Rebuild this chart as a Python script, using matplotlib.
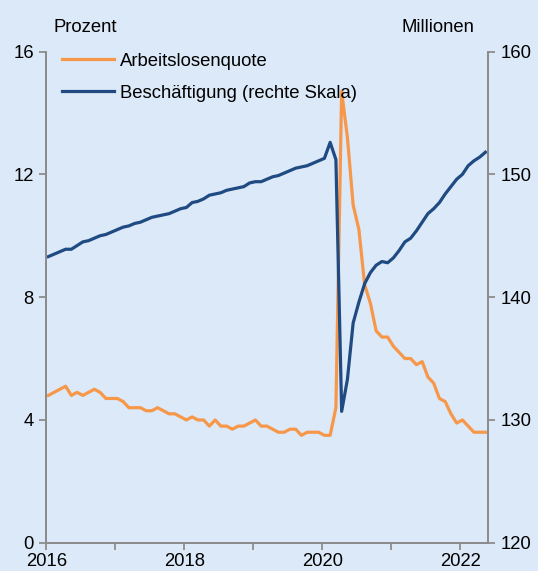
import matplotlib.pyplot as plt
import numpy as np

plt.rcParams['font.family'] = ['Liberation Sans', 'DejaVu Sans']

# monthly data, Jan 2016 - May 2022
start_year = 2016
unemployment = [
    4.8, 4.9, 5.0, 5.1, 4.8, 4.9, 4.8, 4.9, 5.0, 4.9, 4.7, 4.7,   # 2016
    4.7, 4.6, 4.4, 4.4, 4.4, 4.3, 4.3, 4.4, 4.3, 4.2, 4.2, 4.1,   # 2017
    4.0, 4.1, 4.0, 4.0, 3.8, 4.0, 3.8, 3.8, 3.7, 3.8, 3.8, 3.9,   # 2018
    4.0, 3.8, 3.8, 3.7, 3.6, 3.6, 3.7, 3.7, 3.5, 3.6, 3.6, 3.6,   # 2019
    3.5, 3.5, 4.4, 14.7, 13.2, 11.0, 10.2, 8.4, 7.8, 6.9, 6.7, 6.7,  # 2020
    6.4, 6.2, 6.0, 6.0, 5.8, 5.9, 5.4, 5.2, 4.7, 4.6, 4.2, 3.9,   # 2021
    4.0, 3.8, 3.6, 3.6, 3.6,                                      # 2022
]
employment = [
    143.3, 143.5, 143.7, 143.9, 143.9, 144.2, 144.5, 144.6, 144.8, 145.0, 145.1, 145.3,  # 2016
    145.5, 145.7, 145.8, 146.0, 146.1, 146.3, 146.5, 146.6, 146.7, 146.8, 147.0, 147.2,  # 2017
    147.3, 147.7, 147.8, 148.0, 148.3, 148.4, 148.5, 148.7, 148.8, 148.9, 149.0, 149.3,  # 2018
    149.4, 149.4, 149.6, 149.8, 149.9, 150.1, 150.3, 150.5, 150.6, 150.7, 150.9, 151.1,  # 2019
    151.3, 152.6, 151.2, 130.7, 133.3, 137.9, 139.6, 141.1, 142.0, 142.6, 142.9, 142.8,  # 2020
    143.2, 143.8, 144.5, 144.8, 145.4, 146.1, 146.8, 147.2, 147.7, 148.4, 149.0, 149.6,  # 2021
    150.0, 150.7, 151.1, 151.4, 151.8,                                                   # 2022
]
x = start_year + np.arange(len(unemployment)) / 12 + 0.03

bg = '#dce9f8'
orange = '#f7974a'
blue = '#1f4a82'
axis_grey = '#8c8c8c'
fs = 13.3

fig = plt.figure(figsize=(5.38, 5.71), dpi=100, facecolor=bg)
ax = fig.add_axes([0.086, 0.0494, 0.821, 0.8604], facecolor=bg)
ax2 = ax.twinx()

l1, = ax.plot(x, unemployment, color=orange, lw=2.3, label='Arbeitslosenquote')
l2, = ax2.plot(x, employment, color=blue, lw=2.3, label='Beschäftigung (rechte Skala)')

ax.set_xlim(2016.0, 2022.40)
ax.set_ylim(0, 16)
ax2.set_ylim(120, 160)
ax.set_yticks([0, 4, 8, 12, 16])
ax2.set_yticks([120, 130, 140, 150, 160])
years = np.arange(2016, 2023)
ax.set_xticks(years)
ax.set_xticklabels([str(y) if y % 2 == 0 else '' for y in years])

for a in (ax, ax2):
    a.spines['top'].set_visible(False)
    for s in ('left', 'right', 'bottom'):
        a.spines[s].set_color(axis_grey)
        a.spines[s].set_linewidth(1.3)
    a.tick_params(colors=axis_grey, labelcolor='black', labelsize=fs, width=1.3, length=5, pad=4)
ax.tick_params(axis='x', pad=2)

fig.text(0.099, 0.951, 'Prozent', fontsize=fs, ha='left', va='center')
fig.text(0.881, 0.951, 'Millionen', fontsize=fs, ha='right', va='center')

ax.legend(handles=[l1, l2], loc='upper left', bbox_to_anchor=(0.01, 1.02), frameon=False,
          fontsize=fs, handlelength=2.85, handletextpad=0.3, labelspacing=0.8,
          borderaxespad=0.2)

fig.savefig('out.png', dpi=100, facecolor=bg)
